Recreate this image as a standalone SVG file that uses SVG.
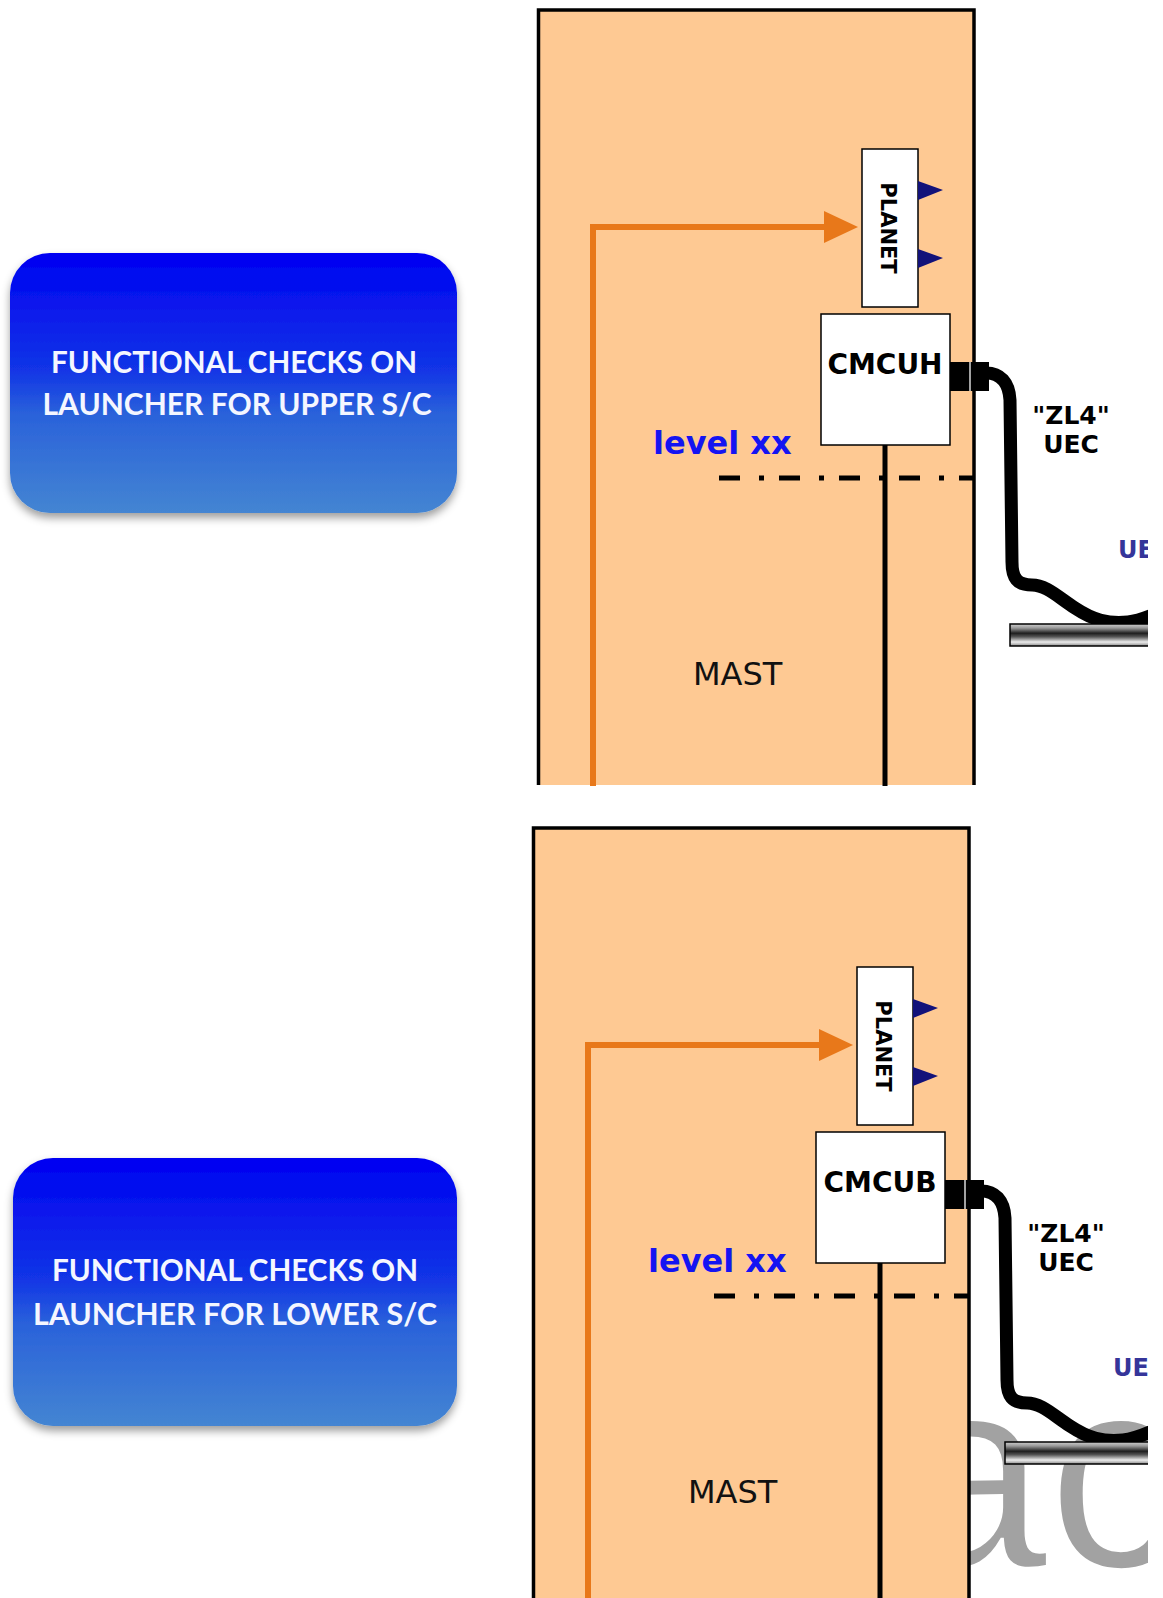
<svg xmlns="http://www.w3.org/2000/svg" width="1163" height="1598" viewBox="0 0 1163 1598">
<defs>
<style>
.mast{fill:#FEC993}
.mastb{fill:none;stroke:#000;stroke-width:3.5}
.box{fill:#fff;stroke:#000;stroke-width:1.5}
.tri{fill:#12127a}
.orange{fill:none;stroke:#E8781A;stroke-width:6}
.blk{fill:none;stroke:#000;stroke-width:5}
.dash{fill:none;stroke:#000;stroke-width:5;stroke-dasharray:21 19 5 15}
.cable{fill:none;stroke:#000;stroke-width:13;stroke-linecap:round;stroke-linejoin:round}
.bar{fill:url(#barg);stroke:#000;stroke-width:1.5}
.bt{font-family:"DejaVu Sans",Verdana,sans-serif;font-weight:bold;fill:#000}
.lvl{font-family:"DejaVu Sans",Verdana,sans-serif;font-weight:bold;font-size:32px;fill:#1414f2}
.mt{font-family:"DejaVu Sans",Verdana,sans-serif;font-size:32px;fill:#111}
.ue{font-family:"DejaVu Sans",Verdana,sans-serif;font-weight:bold;font-size:24px;fill:#35359a}
.btn{fill:url(#btng);filter:url(#sh)}
.btxt{font-family:Lato,"Open Sans","Liberation Sans",sans-serif;font-weight:bold;font-size:30px;fill:#f4f6ff;text-anchor:middle}
.wm{font-family:"Liberation Sans",Arial,sans-serif;font-size:274px;fill:#a2a2a2;stroke:#fff;stroke-width:3}
</style>
<linearGradient id="btng" x1="0" y1="0" x2="0" y2="1">
<stop offset="0" stop-color="#0000f2"/>
<stop offset="0.45" stop-color="#1235e6"/>
<stop offset="0.62" stop-color="#2a62da"/>
<stop offset="1" stop-color="#4485d2"/>
</linearGradient>
<linearGradient id="barg" x1="0" y1="0" x2="0" y2="1">
<stop offset="0" stop-color="#cfcfcf"/>
<stop offset="0.18" stop-color="#9a9a9a"/>
<stop offset="0.42" stop-color="#1e1e1e"/>
<stop offset="0.58" stop-color="#555"/>
<stop offset="0.82" stop-color="#ececec"/>
<stop offset="1" stop-color="#8a8a8a"/>
</linearGradient>
<filter id="sh" x="-10%" y="-10%" width="120%" height="130%">
<feDropShadow dx="0" dy="5" stdDeviation="4" flood-color="#000" flood-opacity="0.38"/>
</filter>
<marker id="oarrow" markerUnits="userSpaceOnUse" markerWidth="36" markerHeight="34" refX="4" refY="16" orient="auto">
<path d="M0,0 L34,16 L0,32 z" fill="#E8781A"/>
</marker>
<clipPath id="clipR"><rect x="0" y="0" width="1148" height="1598"/></clipPath>
<clipPath id="clipL"><rect x="0" y="-818" width="1153" height="1598"/></clipPath>
</defs>
<rect x="0" y="0" width="1163" height="1598" fill="#fff"/>

<!-- watermark behind lower mast -->
<g id="watermark" clip-path="url(#clipR)">
<text class="wm" x="895" y="1567">ac</text>
</g>

<!-- buttons -->
<g id="button-upper">
<rect class="btn" x="10" y="253" width="447" height="260" rx="40" ry="40"/>
<text class="btxt" x="234" y="373" textLength="366" lengthAdjust="spacingAndGlyphs">FUNCTIONAL CHECKS ON</text>
<text class="btxt" x="237" y="415" textLength="389" lengthAdjust="spacingAndGlyphs">LAUNCHER FOR UPPER S/C</text>
</g>
<g id="button-lower">
<rect class="btn" x="13" y="1158" width="444" height="268" rx="40" ry="40"/>
<text class="btxt" x="235" y="1281" textLength="366" lengthAdjust="spacingAndGlyphs">FUNCTIONAL CHECKS ON</text>
<text class="btxt" x="235" y="1325" textLength="404" lengthAdjust="spacingAndGlyphs">LAUNCHER FOR LOWER S/C</text>
</g>

<!-- upper panel -->
<g id="mast-upper">
<rect class="mast" x="538" y="10" width="436" height="775"/>
<path class="mastb" d="M538.5 785 V10 H974 V785"/>
<text class="mt" x="693" y="685">MAST</text>
</g>
<g id="level-upper">
<text class="lvl" x="653" y="454">level xx</text>
</g>

<!-- lower panel -->
<g id="mast-lower" transform="translate(-5,818)">
<rect class="mast" x="538" y="10" width="436" height="775"/>
<path class="mastb" d="M538.5 785 V10 H974 V785"/>
<text class="mt" x="693" y="685">MAST</text>
</g>
<g id="level-lower" transform="translate(-5,818)">
<text class="lvl" x="653" y="454">level xx</text>
</g>

<!-- connectors -->
<g id="connectors">
<g id="conn-upper">
<path class="orange" d="M593 786 V227 H828" marker-end="url(#oarrow)"/>
<path class="blk" d="M885 445 V786"/>
<path class="dash" d="M719 478 H974"/>
<path class="cable" clip-path="url(#clipR)" d="M986 373 C1000 373 1009 382 1010 400 L1012 562 C1012 578 1017 585 1032 585 C1046 585 1058 597 1075 608 C1093 620 1108 624 1128 622 C1140 621 1150 616 1160 612"/>
</g>
<g id="conn-lower" transform="translate(-5,818)">
<path class="orange" d="M593 786 V227 H828" marker-end="url(#oarrow)"/>
<path class="blk" d="M885 445 V786"/>
<path class="dash" d="M719 478 H974"/>
<path class="cable" clip-path="url(#clipL)" d="M986 373 C1000 373 1009 382 1010 400 L1012 562 C1012 578 1017 585 1032 585 C1046 585 1058 597 1075 608 C1093 620 1108 624 1128 622 C1140 621 1150 616 1160 612"/>
</g>
</g>

<!-- upper nodes -->
<g id="planet-upper">
<rect class="box" x="862" y="149" width="56" height="158"/>
<path class="tri" d="M918 181 L943 190 L918 200 z"/>
<path class="tri" d="M918 249 L943 258 L918 268 z"/>
<text class="bt" font-size="21" text-anchor="middle" transform="translate(888,228) rotate(90)" y="7.5">PLANET</text>
</g>
<g id="cmcuh">
<rect class="box" x="821" y="314" width="129" height="131"/>
<text class="bt" font-size="28" text-anchor="middle" x="885" y="374">CMCUH</text>
</g>
<g id="uec-connector-upper">
<rect x="950" y="362" width="39" height="29" fill="#000"/>
<line x1="970" y1="362" x2="970" y2="391" stroke="#d8d8d8" stroke-width="1.5"/>
</g>
<g id="uec-label-upper">
<text class="bt" font-size="25" text-anchor="middle" x="1071" y="424">"ZL4"</text>
<text class="bt" font-size="25" text-anchor="middle" x="1071" y="453">UEC</text>
</g>
<g id="umbilical-upper" clip-path="url(#clipR)">
<rect class="bar" x="1010" y="624" width="150" height="22"/>
<text class="ue" x="1118" y="558">UE</text>
</g>

<!-- lower nodes -->
<g id="planet-lower" transform="translate(-5,818)">
<rect class="box" x="862" y="149" width="56" height="158"/>
<path class="tri" d="M918 181 L943 190 L918 200 z"/>
<path class="tri" d="M918 249 L943 258 L918 268 z"/>
<text class="bt" font-size="21" text-anchor="middle" transform="translate(888,228) rotate(90)" y="7.5">PLANET</text>
</g>
<g id="cmcub" transform="translate(-5,818)">
<rect class="box" x="821" y="314" width="129" height="131"/>
<text class="bt" font-size="28" text-anchor="middle" x="885" y="374">CMCUB</text>
</g>
<g id="uec-connector-lower" transform="translate(-5,818)">
<rect x="950" y="362" width="39" height="29" fill="#000"/>
<line x1="970" y1="362" x2="970" y2="391" stroke="#d8d8d8" stroke-width="1.5"/>
</g>
<g id="uec-label-lower" transform="translate(-5,818)">
<text class="bt" font-size="25" text-anchor="middle" x="1071" y="424">"ZL4"</text>
<text class="bt" font-size="25" text-anchor="middle" x="1071" y="453">UEC</text>
</g>
<g id="umbilical-lower" clip-path="url(#clipR)">
<g transform="translate(-5,818)">
<rect class="bar" x="1010" y="624" width="160" height="22"/>
<text class="ue" x="1118" y="558">UE</text>
</g>
</g>
</svg>
